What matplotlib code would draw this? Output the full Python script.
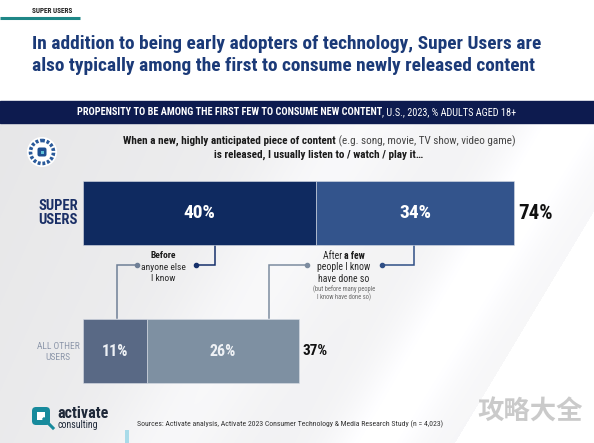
import numpy as np
import matplotlib
matplotlib.use("Agg")
import matplotlib.pyplot as plt
from matplotlib.patches import Rectangle, FancyBboxPatch, Circle
from matplotlib.font_manager import fontManager

# ---------------- data ----------------
groups = ["SUPER\nUSERS", "ALL OTHER\nUSERS"]
before_anyone = [40, 11]          # "Before anyone else I know"
after_few = [34, 26]              # "After a few people I know have done so"
totals = [74, 37]

title_lines = ["In addition to being early adopters of technology, Super Users are",
               "also typically among the first to consume newly released content"]
source_text = "Sources: Activate analysis, Activate 2023 Consumer Technology & Media Research Study (n = 4,023)"

# ---------------- fonts ----------------
names = {f.name for f in fontManager.ttflist}
COND = "Roboto"
for cand in ["Roboto Condensed", "Liberation Sans Narrow", "Roboto"]:
    if cand in names:
        COND = cand
        break
FAM = [COND, "DejaVu Sans"]
plt.rcParams["font.family"] = FAM

W, H = 594, 443
fig = plt.figure(figsize=(W / 100, H / 100), dpi=100)
bg = fig.add_axes([0, 0, 1, 1])
bg.set_xlim(0, W)
bg.set_ylim(H, 0)
bg.axis("off")
R = fig.canvas.get_renderer()

# background
yy, xx = np.mgrid[0:H, 0:W]
base = 0.90 + 0.06 * (xx / W) + 0.02 * (yy / H)
d = xx + 0.6 * yy
streak = (0.05 * np.exp(-((d - 640) / 45) ** 2) + 0.035 * np.exp(-((d - 430) / 70) ** 2)
          + 0.04 * (d > 720))
val = np.clip(base + streak, 0, 1)
img = np.ones((H, W, 3))
mask = yy >= 123
img[mask] = (val[mask][:, None] * np.array([1.0, 1.0, 1.006])).clip(0, 1)
bg.imshow(img, extent=(0, W, H, 0), aspect="auto", zorder=0, interpolation="bilinear")

# header pieces
bg.plot([0, 80], [17.5, 17.5], color="#1f8787", lw=2.2, solid_capstyle="butt", zorder=2)
bg.text(32, 11, "SUPER USERS", fontsize=5.2, fontweight="bold", color="#222222",
        va="center", ha="left", zorder=3)


def fit(t, width):
    w = t.get_window_extent(R).width
    t.set_fontsize(t.get_fontsize() * width / w)


def rich_line(xc, y, parts, size, target=None):
    texts = [bg.text(0, y, s, fontsize=size, fontweight=wt, color=c, va="center",
                     ha="left", zorder=5) for s, wt, c in parts]
    widths = [t.get_window_extent(R).width for t in texts]
    if target:
        k = target / sum(widths)
        for t in texts:
            t.set_fontsize(size * k)
        widths = [t.get_window_extent(R).width for t in texts]
    x = xc - sum(widths) / 2
    for t, wd in zip(texts, widths):
        t.set_x(x)
        x += wd
    return texts


t1 = bg.text(32, 44, title_lines[0], fontsize=14, fontweight="bold", color="#1b3a78",
             va="center", ha="left", zorder=3)
fit(t1, 511)
t2 = bg.text(32, 66, title_lines[1], fontsize=t1.get_fontsize(), fontweight="bold",
             color="#1b3a78", va="center", ha="left", zorder=3)

# navy band
bg.add_patch(Rectangle((0, 101), W, 22, color="#0d1b4f", zorder=2))
rich_line(297, 112, [("PROPENSITY TO BE AMONG THE FIRST FEW TO CONSUME NEW CONTENT", "bold", "white"),
                     (", U.S., 2023, % ADULTS AGED 18+", "normal", "white")], 7, target=440)

# subtitle
sub = rich_line(319, 141, [("When a new, highly anticipated piece of content", "bold", "#1a1a1a"),
                           (" (e.g. song, movie, TV show, video game)", "normal", "#444444")],
                8, target=392)
rich_line(319, 155, [("is released, I usually listen to / watch / play it\u2026", "bold", "#1a1a1a")],
          sub[0].get_fontsize())

# badge
bg.add_patch(Circle((42, 152), 15, facecolor="white", edgecolor="none", zorder=3))
bg.add_patch(Circle((42, 152), 11.5, facecolor="none", edgecolor="#2a5a9a", lw=2.6,
                    linestyle=(0, (0.8, 0.5)), zorder=4))
bg.add_patch(FancyBboxPatch((37.5, 147.5), 9, 9, boxstyle="round,pad=0,rounding_size=2",
                            facecolor="#1d4f91", edgecolor="none", zorder=5))
bg.add_patch(Rectangle((40.5, 150.5), 3.5, 3.5, facecolor="#5fc1d6", zorder=6))

# ---------------- bars ----------------
PX = 5.83          # pixels per percentage point
X0, YC0, DY = 83, 213, 138
ax = fig.add_axes([X0 / W, 0, 1 - X0 / W, 1])
ax.set_xlim(0, (W - X0) / PX)
ax.set_ylim((H - YC0) / DY, -YC0 / DY)
ax.axis("off")
ax.patch.set_alpha(0)

ypos = np.arange(len(groups))
c_before = ["#0f2a60", "#596985"]
c_after = ["#33548c", "#7e90a2"]
ax.barh(ypos, before_anyone, height=0.46, color=c_before, edgecolor="#d8dde6", lw=0.4, zorder=3)
ax.barh(ypos, after_few, left=before_anyone, height=0.46, color=c_after,
        edgecolor="#d8dde6", lw=0.4, zorder=3)

lab_sizes = [14, 11.5]
tot_sizes = [15, 11]
lab_cols = ["white", "#eef1f5"]
for i in ypos:
    ax.text(before_anyone[i] / 2, i, f"{before_anyone[i]}%", ha="center", va="center",
            color=lab_cols[i], fontsize=lab_sizes[i], fontweight="bold", zorder=4)
    ax.text(before_anyone[i] + after_few[i] / 2, i, f"{after_few[i]}%", ha="center", va="center",
            color=lab_cols[i], fontsize=lab_sizes[i], fontweight="bold", zorder=4)
    ax.text(before_anyone[i] + after_few[i] + 0.6, i, f"{totals[i]}%", ha="left", va="center",
            color="#111111", fontsize=tot_sizes[i], fontweight="bold", zorder=4)

# category labels
bg.text(58, 213, groups[0], ha="center", va="center", fontsize=10.5, fontweight="bold",
        color="#1a2f66", linespacing=1.0, zorder=5)
bg.text(58, 352, groups[1], ha="center", va="center", fontsize=6.8, color="#8d97aa",
        linespacing=1.25, zorder=5)

# connectors
def connector(pts, dot, color):
    xs, ys = zip(*pts)
    bg.plot(xs, ys, color=color, lw=1.1, zorder=4, solid_joinstyle="miter")
    bg.plot([dot[0]], [dot[1]], "o", color=color, ms=3, zorder=4)

connector([(215, 245), (215, 265), (196, 265)], (196, 265), "#16306b")
connector([(117, 318), (117, 265), (137, 265)], (137, 265), "#6f7f96")
connector([(414, 245), (414, 265), (382, 265)], (382, 265), "#2f4f86")
connector([(269, 318), (269, 265), (307, 265)], (307, 265), "#7d8ca0")

bg.text(163, 256, "Before", ha="center", va="center", fontsize=6.8, fontweight="bold",
        color="#1a1a1a", zorder=5)
bg.text(163, 262.5, "anyone else\nI know", ha="center", va="top", fontsize=6.8,
        color="#2a2a2a", linespacing=1.3, zorder=5)
rich_line(344, 256, [("After ", "normal", "#2a2a2a"), ("a few", "bold", "#1a1a1a")], 7)
bg.text(344, 261.5, "people I know\nhave done so", ha="center", va="top", fontsize=7,
        color="#2a2a2a", linespacing=1.25, zorder=5)
bg.text(344, 285, "(but before many people\nI know have done so)", ha="center", va="top",
        fontsize=4.7, color="#6a6a6a", linespacing=1.15, zorder=5)

# footer
bg.add_patch(FancyBboxPatch((32, 407), 18, 18, boxstyle="round,pad=0,rounding_size=4",
                            facecolor="#178a9c", edgecolor="none", zorder=5))
bg.add_patch(Rectangle((37, 412), 8, 8, facecolor="white", zorder=6))
bg.plot([44, 53], [419, 428], color="#178a9c", lw=2.2, zorder=7)
bg.text(57, 413, "activate", ha="left", va="center", fontsize=11.5, fontweight="bold",
        color="#1e2838", zorder=5)
bg.text(57, 425, "consulting", ha="left", va="center", fontsize=7, color="#1e2838", zorder=5)
st = bg.text(137, 424, source_text, ha="left", va="center", fontsize=5.5, color="#333333", zorder=5)
fit(st, 303)
bg.add_patch(Rectangle((125, 430), 4, 13, facecolor="#a9dbe9", edgecolor="none", zorder=5))
bg.text(530, 412, "\u653b\u7565\u5927\u5168", ha="center", va="center", fontsize=19,
        fontweight="bold", family=["Noto Sans CJK SC", "DejaVu Sans"], color="#a8a8a8",
        alpha=0.6, zorder=6)

fig.savefig("out.png", dpi=100)
